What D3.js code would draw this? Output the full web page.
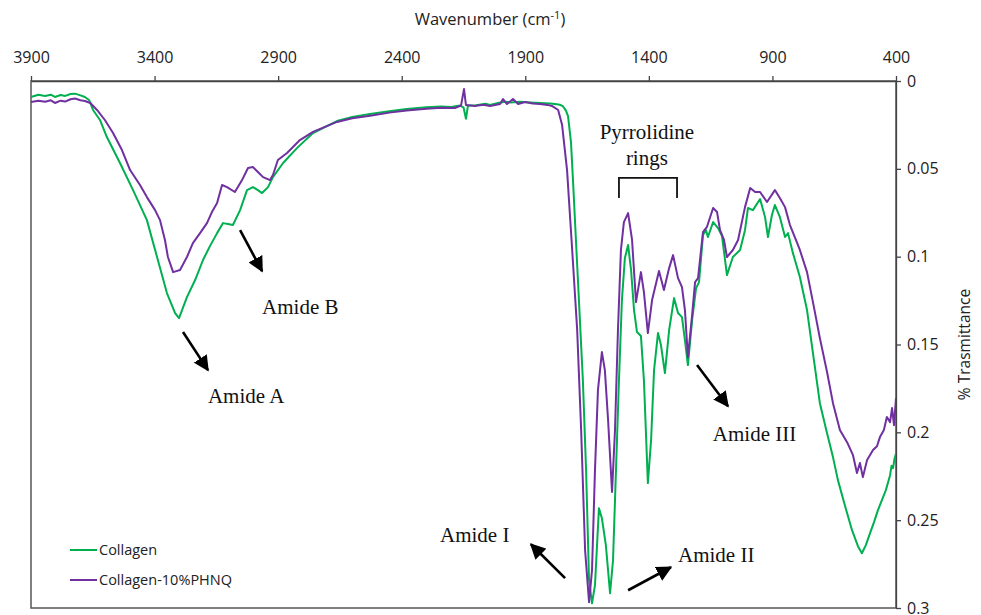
<!DOCTYPE html>
<html>
<head>
<meta charset="utf-8">
<script src="https://cdn.jsdelivr.net/npm/d3@7"></script>
<style>
  body { margin: 0; background: #fff; }
  .axis text { font-family: "Open Sans", sans-serif; font-size: 16px; fill: #222; }
  .axis path, .axis line { stroke: #444; stroke-width: 1.3; }
  .note { font-family: "Liberation Serif", "Times New Roman", serif; font-size: 21px; fill: #111; }
</style>
</head>
<body>
<div id="chart"></div>
<script>
// x axis ticks (wavenumber, reversed) and y ticks
var xTicks = [3900, 3400, 2900, 2400, 1900, 1400, 900, 400];
var yTicks = [0, 0.05, 0.1, 0.15, 0.2, 0.25, 0.3];

// Collagen
var collagenWn = [3900, 3870, 3843, 3820, 3803, 3780, 3762, 3740, 3722, 3700, 3682, 3665, 3649, 3621, 3593, 3540, 3487, 3431, 3390, 3350,
  3317, 3301, 3269, 3236, 3204, 3176, 3147, 3123, 3103, 3083, 3054, 3026, 3002, 2982, 2965, 2941, 2921, 2880, 2824, 2759,
  2662, 2600, 2528, 2450, 2380, 2300, 2240, 2200, 2164, 2150, 2140, 2132, 2100, 2060, 2043, 2010, 1982, 1960, 1921, 1880,
  1840, 1800, 1780, 1760, 1747, 1735, 1727, 1715, 1707, 1697, 1687, 1667, 1654, 1642, 1630, 1618, 1602, 1590, 1574, 1557,
  1545, 1533, 1521, 1509, 1497, 1484, 1472, 1460, 1448, 1432, 1420, 1404, 1391, 1379, 1363, 1351, 1335, 1318, 1298, 1282,
  1266, 1254, 1242, 1225, 1209, 1197, 1181, 1169, 1161, 1140, 1120, 1104, 1084, 1060, 1031, 1011, 999, 979, 950, 930,
  918, 902, 890, 870, 849, 837, 817, 789, 760, 736, 708, 679, 655, 635, 607, 578, 554, 538, 522, 505,
  489, 473, 457, 441, 424, 418, 412, 406, 400];
var collagenT = [0.0091, 0.0078, 0.0085, 0.0078, 0.0091, 0.0080, 0.0085, 0.0074, 0.0072, 0.0082, 0.0091, 0.0108, 0.0165, 0.0222, 0.0319, 0.0467, 0.0621, 0.0792, 0.1002, 0.1207,
  0.1321, 0.1350, 0.1230, 0.1133, 0.1019, 0.0940, 0.0866, 0.0809, 0.0814, 0.0820, 0.0735, 0.0621, 0.0604, 0.0621, 0.0638, 0.0604, 0.0547, 0.0467, 0.0382, 0.0296,
  0.0228, 0.0205, 0.0188, 0.0172, 0.0160, 0.0150, 0.0145, 0.0148, 0.0140, 0.0150, 0.0215, 0.0140, 0.0138, 0.0130, 0.0136, 0.0125, 0.0118, 0.0122, 0.0118, 0.0122,
  0.0125, 0.0128, 0.0131, 0.0135, 0.0145, 0.0170, 0.0200, 0.0350, 0.0564, 0.0850, 0.1133, 0.1703, 0.2215, 0.2842, 0.2973, 0.2870, 0.2432, 0.2489, 0.2642, 0.2916,
  0.2728, 0.2215, 0.1703, 0.1247, 0.1008, 0.0934, 0.1076, 0.1304, 0.1429, 0.1452, 0.1703, 0.2289, 0.2044, 0.1646, 0.1435, 0.1503, 0.1663, 0.1418, 0.1236, 0.1321,
  0.1344, 0.1475, 0.1617, 0.1361, 0.1179, 0.1145, 0.0877, 0.0849, 0.0888, 0.0803, 0.0837, 0.0883, 0.1105, 0.1002, 0.0962, 0.0849, 0.0723, 0.0735, 0.0672, 0.0774,
  0.0888, 0.0763, 0.0706, 0.0774, 0.0888, 0.0866, 0.0980, 0.1116, 0.1304, 0.1549, 0.1834, 0.2005, 0.2141, 0.2272, 0.2415, 0.2557, 0.2648, 0.2688, 0.2642, 0.2574,
  0.2511, 0.2443, 0.2386, 0.2329, 0.2244, 0.2190, 0.2204, 0.2150, 0.2120];

// Collagen-10%PHNQ
var phnqWn = [3900, 3870, 3843, 3820, 3803, 3780, 3762, 3740, 3722, 3700, 3682, 3660, 3633, 3601, 3568, 3532, 3499, 3459, 3431, 3398,
  3378, 3358, 3346, 3325, 3297, 3269, 3245, 3216, 3188, 3168, 3147, 3127, 3107, 3075, 3046, 3022, 3002, 2982, 2961, 2933,
  2921, 2901, 2864, 2812, 2759, 2662, 2600, 2528, 2450, 2380, 2300, 2240, 2185, 2160, 2148, 2140, 2104, 2070, 2043, 2002,
  1990, 1974, 1950, 1929, 1901, 1870, 1840, 1810, 1792, 1767, 1751, 1731, 1711, 1690, 1674, 1658, 1642, 1630, 1618, 1606,
  1590, 1578, 1565, 1549, 1537, 1525, 1513, 1501, 1484, 1468, 1452, 1432, 1420, 1404, 1387, 1359, 1339, 1318, 1302, 1282,
  1266, 1254, 1242, 1225, 1213, 1201, 1181, 1165, 1140, 1124, 1112, 1096, 1084, 1060, 1039, 1011, 990, 970, 950, 922,
  890, 870, 849, 829, 805, 789, 760, 736, 708, 679, 655, 627, 598, 574, 558, 546, 534, 517, 493, 477,
  465, 449, 437, 424, 416, 408, 400];
var phnqT = [0.0120, 0.0113, 0.0118, 0.0110, 0.0125, 0.0112, 0.0117, 0.0104, 0.0100, 0.0110, 0.0114, 0.0125, 0.0165, 0.0222, 0.0296, 0.0393, 0.0507, 0.0592, 0.0661, 0.0735,
  0.0792, 0.0905, 0.1002, 0.1088, 0.1076, 0.1002, 0.0923, 0.0866, 0.0809, 0.0746, 0.0695, 0.0592, 0.0604, 0.0632, 0.0564, 0.0495, 0.0490, 0.0518, 0.0547, 0.0564,
  0.0535, 0.0450, 0.0410, 0.0336, 0.0290, 0.0233, 0.0212, 0.0198, 0.0180, 0.0168, 0.0158, 0.0152, 0.0154, 0.0140, 0.0046, 0.0137, 0.0142, 0.0135, 0.0142, 0.0131,
  0.0103, 0.0131, 0.0103, 0.0131, 0.0120, 0.0128, 0.0131, 0.0136, 0.0142, 0.0165, 0.0251, 0.0507, 0.0945, 0.1418, 0.1987, 0.2671, 0.2967, 0.2785, 0.2215, 0.1760,
  0.1543, 0.1646, 0.1930, 0.2340, 0.1987, 0.1418, 0.0962, 0.0803, 0.0752, 0.0905, 0.1259, 0.1088, 0.1202, 0.1435, 0.1247, 0.1082, 0.1190, 0.1065, 0.0991, 0.1122,
  0.1173, 0.1304, 0.1572, 0.1333, 0.1145, 0.1122, 0.0860, 0.0831, 0.0723, 0.0746, 0.0849, 0.0905, 0.1002, 0.0962, 0.0905, 0.0718, 0.0609, 0.0632, 0.0632, 0.0689,
  0.0621, 0.0666, 0.0718, 0.0820, 0.0905, 0.0962, 0.1088, 0.1259, 0.1464, 0.1657, 0.1834, 0.1987, 0.2056, 0.2130, 0.2232, 0.2175, 0.2255, 0.2158, 0.2101, 0.2079,
  0.2027, 0.1987, 0.1913, 0.1942, 0.1862, 0.1959, 0.1805];

var seriesNames = ["Collagen", "Collagen-10%PHNQ"];
var seriesColors = ["#00b050", "#7030a0"];

// annotations in data units: [label, textWn, textT, arrowFromWn, arrowFromT, arrowToWn, arrowToT]
var notes = [
  ["Amide A", 3184, 0.1834, 3285, 0.1429, 3184, 0.1646],
  ["Amide B", 2965, 0.1327, 3054, 0.0849, 2965, 0.1082],
  ["Amide I", 2245, 0.2625, 1739, 0.2830, 1877, 0.2637],
  ["Amide II", 1282, 0.2739, 1484, 0.2899, 1311, 0.2768],
  ["Amide III", 1141, 0.2050, 1205, 0.1617, 1080, 0.1851]
];

var width = 981, height = 615;
var margin = {top: 81, right: 85, bottom: 7, left: 31};

var svg = d3.select('#chart')
  .append('svg')
  .attr('width', width)
  .attr('height', height);

var xScale = d3.scaleLinear().domain([3900, 400]).range([margin.left, width - margin.right]);
var yScale = d3.scaleLinear().domain([0, 0.3]).range([margin.top, height - margin.bottom]);

// arrow head
svg.append('defs').append('marker')
  .attr('id', 'head')
  .attr('viewBox', '0 0 10 10')
  .attr('refX', 9).attr('refY', 5)
  .attr('markerWidth', 6).attr('markerHeight', 6)
  .attr('orient', 'auto')
  .append('path')
  .attr('d', 'M0,0 L10,5 L0,10 z')
  .attr('fill', '#000');

// frame
svg.append('rect')
  .attr('x', margin.left).attr('y', margin.top)
  .attr('width', width - margin.right - margin.left)
  .attr('height', height - margin.bottom - margin.top)
  .attr('fill', 'none')
  .attr('stroke', '#555')
  .attr('stroke-width', 1.5);

var line = d3.line()
  .x(function(d) { return xScale(d[0]); })
  .y(function(d) { return yScale(d[1]); });

var seriesData = [d3.zip(collagenWn, collagenT), d3.zip(phnqWn, phnqT)];

seriesData.forEach(function(pts, i) {
  svg.append('path')
    .datum(pts)
    .attr('fill', 'none')
    .attr('stroke', seriesColors[i])
    .attr('stroke-width', 2)
    .attr('stroke-linejoin', 'round')
    .attr('d', line);
});

var xAxis = d3.axisTop(xScale).tickValues(xTicks).tickSize(5).tickSizeOuter(0).tickPadding(13)
  .tickFormat(d3.format('d'));
var yAxis = d3.axisRight(yScale).tickValues(yTicks).tickSize(5).tickSizeOuter(0).tickPadding(6)
  .tickFormat(function(d) { return String(d); });

svg.append('g')
  .attr('class', 'axis')
  .attr('transform', 'translate(0,' + margin.top + ')')
  .call(xAxis);

svg.append('g')
  .attr('class', 'axis')
  .attr('transform', 'translate(' + (width - margin.right) + ',0)')
  .call(yAxis);

// axis titles
var xt = svg.append('text')
  .attr('x', 490).attr('y', 25)
  .attr('text-anchor', 'middle')
  .style('font-family', '"Open Sans", sans-serif')
  .style('font-size', '16.5px')
  .attr('fill', '#222');
xt.append('tspan').text('Wavenumber (cm');
xt.append('tspan').attr('dy', -6).style('font-size', '11px').text('-1');
xt.append('tspan').attr('dy', 6).text(')');

svg.append('text')
  .attr('transform', 'translate(970,' + ((margin.top + height - margin.bottom) / 2) + ') rotate(-90)')
  .attr('text-anchor', 'middle')
  .style('font-family', '"Open Sans", sans-serif')
  .style('font-size', '15.5px')
  .attr('fill', '#222')
  .text('% Trasmittance');

// notes with arrows
notes.forEach(function(n) {
  svg.append('line')
    .attr('x1', xScale(n[3])).attr('y1', yScale(n[4]))
    .attr('x2', xScale(n[5])).attr('y2', yScale(n[6]))
    .attr('stroke', '#000')
    .attr('stroke-width', 2.6)
    .attr('marker-end', 'url(#head)');
  svg.append('text')
    .attr('class', 'note')
    .attr('x', xScale(n[1])).attr('y', yScale(n[2]))
    .text(n[0]);
});

// pyrrolidine bracket
var brLeft = 1521, brRight = 1286, brTop = 0.0552, brBottom = 0.0666;
svg.append('path')
  .attr('d', 'M' + xScale(brLeft) + ',' + yScale(brBottom) +
    'V' + yScale(brTop) + 'H' + xScale(brRight) + 'V' + yScale(brBottom))
  .attr('fill', 'none')
  .attr('stroke', '#111')
  .attr('stroke-width', 1.8);

svg.append('text').attr('class', 'note')
  .attr('x', xScale(1408)).attr('y', yScale(0.0330))
  .attr('text-anchor', 'middle').text('Pyrrolidine');
svg.append('text').attr('class', 'note')
  .attr('x', xScale(1408)).attr('y', yScale(0.0478))
  .attr('text-anchor', 'middle').text('rings');

// legend
var legend = svg.append('g').attr('transform', 'translate(70,550)');
seriesNames.forEach(function(name, i) {
  var g = legend.append('g').attr('transform', 'translate(0,' + (i * 30) + ')');
  g.append('line')
    .attr('x1', 0).attr('x2', 27)
    .attr('stroke', seriesColors[i])
    .attr('stroke-width', 2);
  g.append('text')
    .attr('x', 29).attr('y', 5)
    .style('font-family', '"Open Sans", sans-serif')
    .style('font-size', '14.5px')
    .attr('fill', '#222')
    .text(name);
});
</script>
</body>
</html>
